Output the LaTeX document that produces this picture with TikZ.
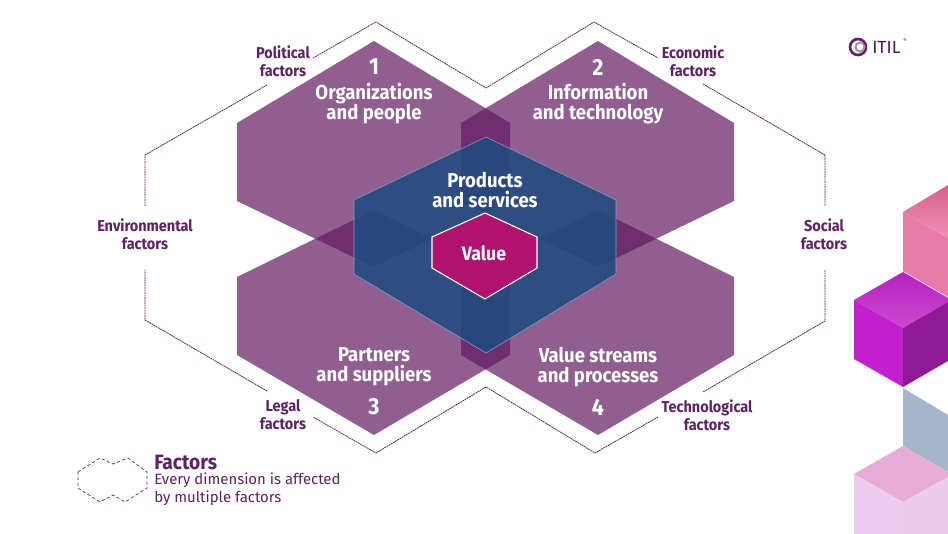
\documentclass[tikz,border=0pt]{standalone}
\usepackage{fontspec}
\setmainfont{Fira Sans}
\newfontfamily\condfont[FakeStretch=0.92]{Fira Sans}
\definecolor{hexc}{HTML}{621C60}
\definecolor{bluec}{HTML}{1E4C80}
\definecolor{valc}{HTML}{B0126E}
\definecolor{labc}{HTML}{5F2163}
\definecolor{dashc}{HTML}{5F2060}
\tikzset{
  dimhex/.style={fill=hexc,fill opacity=.7,draw=none},
  bigtext/.style={text=white,align=center,inner sep=0pt,font=\condfont\fontsize{15.1}{15}\selectfont\bfseries},
  numtext/.style={text=white,inner sep=0pt,font=\condfont\fontsize{17.5}{17}\selectfont\bfseries},
  factor/.style={text=labc,align=center,inner sep=0pt,font=\condfont\fontsize{11.8}{13.6}\selectfont\bfseries},
  outer/.style={draw=dashc,line width=.6pt,dash pattern=on 1.4pt off .5pt},
  legendline/.style={draw=dashc,line width=.5pt,dash pattern=on 2.4pt off 1.8pt},
}
\begin{document}
\begin{tikzpicture}[x=0.75pt,y=-0.75pt]
\useasboundingbox (0,0) rectangle (948,534);
% cubes
\fill[white] (0,0) rectangle (948,534);
\fill[color={rgb,255:red,232;green,124;blue,168}] (903,212) -- (948,238) -- (948,297) -- (903,271) -- cycle;
\shade[bottom color={rgb,255:red,238;green,147;blue,182},top color={rgb,255:red,216;green,95;blue,140}] (903,212) -- (948,185) -- (948,238) -- cycle;
\shade[bottom color={rgb,255:red,204;green,74;blue,208},top color={rgb,255:red,181;green,32;blue,192}] (903,272) -- (854,300) -- (903,328) -- (948,302) -- (948,298) -- cycle;
\fill[color={rgb,255:red,194;green,31;blue,207}] (854,300) -- (903,328) -- (903,387) -- (854,359) -- cycle;
\fill[color={rgb,255:red,143;green,26;blue,150}] (903,328) -- (948,302) -- (948,361) -- (903,387) -- cycle;
\fill[color={rgb,255:red,165;green,182;blue,203}] (903,388) -- (948,415) -- (948,472) -- (903,446) -- cycle;
\fill[color={rgb,255:red,232;green,172;blue,216}] (903,446) -- (854,474) -- (903,502) -- (948,477) -- (948,472) -- cycle;
\fill[color={rgb,255:red,237;green,204;blue,242}] (854,474) -- (903,502) -- (903,534) -- (854,534) -- cycle;
\fill[color={rgb,255:red,235;green,204;blue,238}] (903,502) -- (948,477) -- (948,534) -- (903,534) -- cycle;
% dimension hexagons
\path[dimhex] (374,41) -- (510,123) -- (510,201) -- (374,267) -- (237,201) -- (237,123) -- cycle;
\path[dimhex] (598,41) -- (734,123) -- (734,201) -- (598,267) -- (461,201) -- (461,123) -- cycle;
\path[dimhex] (374,210) -- (510,277) -- (510,355) -- (374,435) -- (237,355) -- (237,277) -- cycle;
\path[dimhex] (598,210) -- (734,277) -- (734,355) -- (598,435) -- (461,355) -- (461,277) -- cycle;
% products and services
\path[fill=bluec,fill opacity=.85] (486,137) -- (616,200) -- (616,274) -- (486,353) -- (354,274) -- (354,200) -- cycle;
\draw[color={rgb,255:red,130;green,160;blue,205},line width=.4pt] (486,137) -- (616,200) -- (616,274) -- (486,353) -- (354,274) -- (354,200) -- cycle;
% value
\path[fill=valc,draw=white,line width=.8pt] (485,213) -- (537,237) -- (537,268) -- (485,299) -- (432,268) -- (432,237) -- cycle;
% factor outline, broken at the labels
\coordinate (ptop) at (376,22);
\coordinate (ctop) at (486,88);
\coordinate (etop) at (594,22);
\coordinate (rtop) at (825,155);
\coordinate (rbot) at (825,321);
\coordinate (tbot) at (595,453);
\coordinate (cbot) at (486,387);
\coordinate (lbot) at (376,453);
\coordinate (lfbot) at (145,320);
\coordinate (lftop) at (145,155);
\path[outer] (313,58) -- (ptop) -- (ctop) -- (etop) -- (658,58);
\path[outer] (703,84) -- (rtop) -- (825,206);
\path[outer] (825,270) -- (rbot) -- (703,392);
\path[outer] (658,417) -- (tbot) -- (cbot) -- (lbot) -- (313,417);
\path[outer] (267,391) -- (lfbot) -- (145,270);
\path[outer] (145,206) -- (lftop) -- (267,85);
% texts
\node[numtext] (n1) at (374,67) {1};
\node[bigtext] (t1) at (374,104) {Organizations\\and people};
\node[numtext] (n2) at (598,67) {2};
\node[bigtext] (t2) at (598,104) {Information\\and technology};
\node[bigtext] (t5) at (485,190) {Products\\and services};
\node[bigtext] (t6) at (484,253) {\fontsize{14.5}{15}\selectfont Value};
\node[bigtext] (t3) at (374,367) {Partners\\and suppliers};
\node[numtext] (n3) at (374,407) {3};
\node[bigtext] (t4) at (598,367) {Value streams\\and processes};
\node[numtext] (n4) at (598,407) {4};
\node[factor] (f1) at (283,61) {Political\\factors};
\node[factor] (f2) at (693,61) {Economic\\factors};
\node[factor] (f3) at (145,234) {Environmental\\factors};
\node[factor] (f4) at (824,234) {Social\\factors};
\node[factor] (f5) at (283,415) {Legal\\factors};
\node[factor] (f6) at (707,415) {Technological\\factors};
% legend
\path[legendline] (78,472) -- (100,458) -- (113,464) -- (128,458) -- (147,472) -- (147,488) -- (125,502) -- (113,495) -- (100,502) -- (78,488) -- cycle;
\node[anchor=west,inner sep=0pt,text=labc,font=\condfont\fontsize{15.6}{15}\selectfont\bfseries] (lg1) at (154,462) {Factors};
\node[anchor=west,inner sep=0pt,text=labc,font=\fontsize{11.2}{13.5}\selectfont,align=left] (lg2) at (154,489) {Every dimension is affected\\by multiple factors};
% logo
\draw[color=labc,line width=2pt] (858,47) circle[radius=8];
\draw[color=labc!55,line width=1.4pt] (860,47) circle[radius=4.5];
\node[anchor=west,inner sep=0pt,text=labc!85!black,font=\fontsize{13.2}{13}\selectfont] (logo) at (872,47.5) {ITIL};
\node[anchor=west,inner sep=0pt,text=labc,font=\fontsize{4}{4}\selectfont] (logor) at (903,41) {®};
\end{tikzpicture}
\end{document}
